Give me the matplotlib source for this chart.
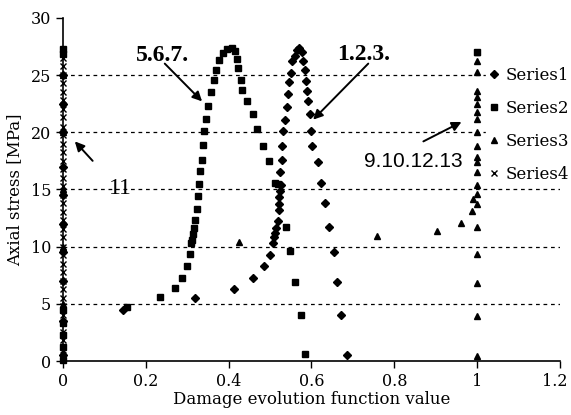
import numpy as np
import matplotlib.pyplot as plt
import matplotlib.transforms as mtransforms

plt.rcParams['font.family'] = ['DejaVu Serif']

# Series1 (diamonds)
s1_x = [0, 0, 0, 0, 0, 0, 0, 0, 0, 0,
        0.145, 0.319, 0.413, 0.459, 0.486, 0.500, 0.507, 0.510, 0.512, 0.515,
        0.519, 0.522, 0.522, 0.522, 0.524, 0.527, 0.524, 0.528, 0.529, 0.532,
        0.536, 0.540, 0.544, 0.546, 0.550, 0.553, 0.560, 0.566, 0.570, 0.577,
        0.580, 0.584, 0.587, 0.590, 0.592, 0.597, 0.599, 0.602, 0.616, 0.623,
        0.633, 0.643, 0.655, 0.662, 0.672, 0.686]
s1_y = [0.5, 3.5, 7.0, 9.5, 12.0, 14.5, 17.0, 20.0, 22.5, 25.0,
        4.5, 5.5, 6.3, 7.3, 8.3, 9.3, 10.3, 10.8, 11.2, 11.6,
        12.2, 13.2, 13.7, 14.3, 14.9, 15.4, 16.5, 17.6, 18.8, 20.1,
        21.1, 22.2, 23.3, 24.4, 25.2, 26.2, 26.7, 27.2, 27.4, 27.0,
        26.2, 25.4, 24.5, 23.6, 22.7, 21.6, 20.1, 18.8, 17.4, 15.6,
        13.8, 11.7, 9.5, 6.9, 4.0, 0.5]

# Series2 (squares)
s2_x = [0, 0, 0, 0, 0, 0, 0,
        0.155, 0.234, 0.270, 0.288, 0.300, 0.307, 0.310, 0.311, 0.315, 0.317,
        0.320, 0.324, 0.326, 0.328, 0.331, 0.335, 0.338, 0.341, 0.346, 0.350,
        0.357, 0.365, 0.370, 0.377, 0.387, 0.396, 0.408, 0.415, 0.420, 0.423,
        0.430, 0.433, 0.444, 0.459, 0.469, 0.483, 0.498, 0.512, 0.519, 0.539,
        0.549, 0.560, 0.575, 0.585, 1.0]
s2_y = [0.1, 1.2, 2.3, 3.3, 4.5, 26.8, 27.3,
        4.7, 5.6, 6.4, 7.3, 8.3, 9.4, 10.3, 10.6, 11.1, 11.6,
        12.3, 13.3, 14.4, 15.5, 16.6, 17.6, 18.9, 20.1, 21.2, 22.3,
        23.5, 24.6, 25.4, 26.3, 26.9, 27.3, 27.4, 27.1, 26.4, 25.6,
        24.6, 23.7, 22.7, 21.6, 20.3, 18.8, 17.5, 15.6, 15.5, 11.7,
        9.6, 6.9, 4.0, 0.6, 27.0]

# Series3 (triangles)
s3_x = [0, 0, 0, 0, 0,
        0.425, 0.758, 0.903, 0.961, 0.988, 1.0, 0.99,
        1, 1, 1, 1, 1, 1, 1, 1, 1, 1, 1, 1, 1, 1, 1, 1, 1, 1, 1, 1]
s3_y = [5.0, 10.0, 15.0, 20.0, 25.0,
        10.4, 10.9, 11.4, 12.1, 13.1, 13.7, 14.2,
        0.4, 3.9, 6.8, 9.4, 11.7, 14.6, 15.4, 16.5, 17.4, 17.8,
        18.8, 20.0, 21.2, 21.8, 22.5, 23.1, 23.6, 25.3, 26.2, 27.0]

# Series4 (crosses)
s4_y = [0.3, 1.0, 1.8, 2.5, 3.3, 4.0, 4.8, 5.5, 6.3, 7.0, 7.8, 8.5, 9.3,
        10.0, 10.8, 11.5, 12.3, 13.0, 13.8, 14.5, 15.3, 16.0, 16.8, 17.5,
        18.3, 19.0, 19.8, 20.5, 21.3, 22.0, 22.8, 23.5, 24.3, 25.0, 25.8, 26.5]
s4_x = [0] * len(s4_y)

fig = plt.figure(figsize=(5.71, 4.15), dpi=100)
ax = fig.add_axes([0.110, 0.130, 0.871, 0.827])

for yy in [5, 10, 15, 20, 25]:
    ax.axhline(yy, color='black', lw=0.9, ls=(0, (3, 3)), zorder=1)

ax.plot(s1_x, s1_y, 'D', color='black', ms=3.6, ls='none', label='Series1', clip_on=False, zorder=3)
ax.plot(s2_x, s2_y, 's', color='black', ms=3.8, ls='none', label='Series2', clip_on=False, zorder=3)
ax.plot(s3_x, s3_y, '^', color='black', ms=4.2, ls='none', label='Series3', clip_on=False, zorder=3)
ax.plot(s4_x, s4_y, 'x', color='black', ms=4, mew=1, ls='none', label='Series4', clip_on=False, zorder=3)

ax.set_xlim(0, 1.2)
ax.set_ylim(0, 30)
ax.set_xticks([0, 0.2, 0.4, 0.6, 0.8, 1, 1.2])
ax.set_xticklabels(['0', '0.2', '0.4', '0.6', '0.8', '1', '1.2'])
ax.set_yticks([0, 5, 10, 15, 20, 25, 30])
ax.spines['top'].set_visible(False)
ax.spines['right'].set_visible(False)
ax.spines['left'].set_linewidth(1.2)
ax.spines['bottom'].set_linewidth(1.2)
ax.tick_params(direction='out', length=5, width=1, labelsize=11.5, colors='black')
ax.set_xlabel('Damage evolution function value', fontsize=12, labelpad=1)
ax.set_ylabel('Axial stress [MPa]', fontsize=12, labelpad=5)

# nudge the last x tick label so it stays inside the figure
last = ax.get_xticklabels()[-1]
last.set_transform(last.get_transform() + mtransforms.ScaledTranslation(-5 / 100, 0, fig.dpi_scale_trans))

arr = dict(arrowstyle='-|>', color='black', lw=1.4, mutation_scale=14, shrinkA=0, shrinkB=0)
ax.text(0.24, 26.7, '5.6.7.', fontsize=17, fontweight='bold', ha='center', va='center',
        family=['Liberation Serif'])
ax.annotate('', xy=(0.336, 22.7), xytext=(0.246, 26.0), arrowprops=arr)
ax.text(0.727, 26.8, '1.2.3.', fontsize=17, fontweight='bold', ha='center', va='center',
        family=['Liberation Serif'])
ax.annotate('', xy=(0.604, 21.1), xytext=(0.737, 26.0), arrowprops=arr)
ax.annotate('', xy=(0.962, 20.9), xytext=(0.87, 19.2), arrowprops=arr)
ax.text(0.845, 17.4, '9.10.12.13', fontsize=15, ha='center', va='center',
        family=['Liberation Sans Narrow', 'Liberation Sans'])
ax.annotate('', xy=(0.029, 19.2), xytext=(0.072, 17.5), arrowprops=arr)
ax.text(0.14, 15.1, '11', fontsize=17, ha='center', va='center',
        family=['Liberation Serif'], zorder=0.5)

leg = ax.legend(loc='upper left', bbox_to_anchor=(486 / 571, 1 - 64 / 415),
                bbox_transform=fig.transFigure, frameon=True, fancybox=False,
                edgecolor='white', facecolor='white', framealpha=1,
                fontsize=12, handlelength=0.5, handletextpad=0.5,
                labelspacing=0.95, borderpad=0.2, borderaxespad=0, numpoints=1)

fig.savefig('out.png', dpi=100)
